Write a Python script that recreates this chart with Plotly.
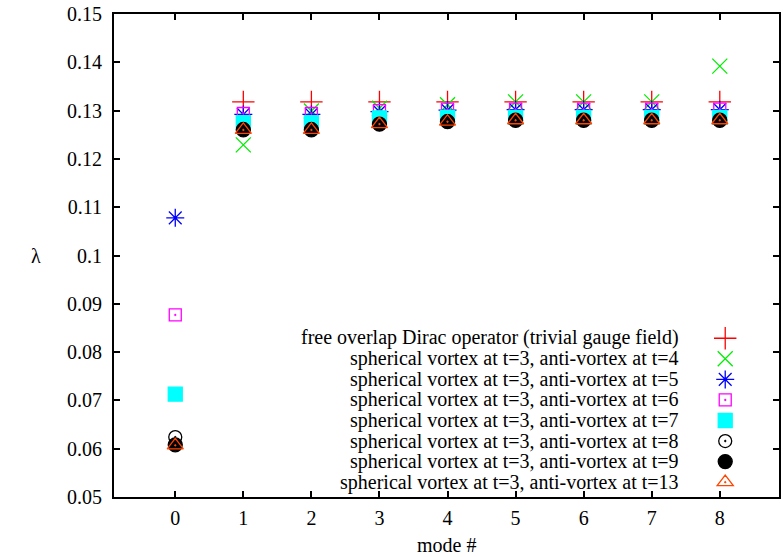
import plotly.graph_objects as go

modes = [0, 1, 2, 3, 4, 5, 6, 7, 8]
modes_no0 = [1, 2, 3, 4, 5, 6, 7, 8]

names = [
    "free overlap Dirac operator (trivial gauge field)",
    "spherical vortex at t=3, anti-vortex at t=4",
    "spherical vortex at t=3, anti-vortex at t=5",
    "spherical vortex at t=3, anti-vortex at t=6",
    "spherical vortex at t=3, anti-vortex at t=7",
    "spherical vortex at t=3, anti-vortex at t=8",
    "spherical vortex at t=3, anti-vortex at t=9",
    "spherical vortex at t=3, anti-vortex at t=13",
]

free_vals = [0.1318, 0.1318, 0.1318, 0.1318, 0.1318, 0.1318, 0.1318, 0.1318]
t4_vals = [0.1229, 0.1299, 0.1305, 0.1312, 0.1318, 0.1318, 0.1318, 0.1392]
t5_vals = [0.1078, 0.1292, 0.1292, 0.1298, 0.1301, 0.1302, 0.1302, 0.1302, 0.1302]
t6_vals = [0.0877, 0.1294, 0.1294, 0.1300, 0.1303, 0.1303, 0.1303, 0.1303, 0.1303]
t7_vals = [0.0713, 0.1275, 0.1275, 0.1285, 0.1286, 0.1286, 0.1286, 0.1286, 0.1286]
t8_vals = [0.0624, 0.1262, 0.1262, 0.1272, 0.1278, 0.1280, 0.1280, 0.1280, 0.1280]
t9_vals = [0.0608, 0.1260, 0.1260, 0.1272, 0.1277, 0.1280, 0.1280, 0.1280, 0.1280]
t13_vals = [0.0607, 0.1260, 0.1260, 0.1272, 0.1277, 0.1280, 0.1280, 0.1280, 0.1280]

x_sets = [modes_no0, modes_no0, modes, modes, modes, modes, modes, modes]
y_sets = [free_vals, t4_vals, t5_vals, t6_vals, t7_vals, t8_vals, t9_vals, t13_vals]
colors = ["#ff0000", "#00ee00", "#0000ff", "#ff00ff", "#00ffff", "#000000", "#000000", "#ff4500"]
symbols = ["cross-thin-open", "x-thin-open", "asterisk-open", "square-open-dot",
           "square", "circle-open-dot", "circle", "triangle-up-open-dot"]
sizes = [16, 15, 15, 12, 14, 13, 14, 14]

y_ticks = [0.05, 0.06, 0.07, 0.08, 0.09, 0.1, 0.11, 0.12, 0.13, 0.14, 0.15]
y_ticktext = ["0.05", "0.06", "0.07", "0.08", "0.09", "0.1", "0.11", "0.12", "0.13", "0.14", "0.15"]
x_ticks = [0, 1, 2, 3, 4, 5, 6, 7, 8]

FONT = "Liberation Serif"
FS = 20

W, H = 783, 557
ML, MR, MT, MB = 114, 2, 14, 60
PW, PH = W - ML - MR, H - MT - MB

def px_x(px):
    return (px - ML) / PW

def px_y(py):
    return (H - MB - py) / PH

fig = go.Figure()
for name, xs, ys, c, s, sz in zip(names, x_sets, y_sets, colors, symbols, sizes):
    fig.add_trace(go.Scatter(
        x=xs, y=ys, mode="markers", name="",
        marker=dict(symbol=s, size=sz, color=c, line=dict(color=c, width=1.3)),
    ))

axis_common = dict(
    showline=True, linecolor="black", linewidth=2, mirror="ticks",
    ticks="inside", ticklen=6, tickwidth=1.5, tickcolor="black",
    showgrid=False, zeroline=False,
    tickfont=dict(family=FONT, size=FS, color="black"),
)

# legend text, right-aligned like gnuplot's key
row0, row_gap = 338, 20.6
annotations = []
for i, name in enumerate(names):
    annotations.append(dict(
        text=name, xref="paper", yref="paper", x=px_x(683), y=px_y(row0 + i * row_gap),
        xanchor="right", yanchor="middle", showarrow=False,
        font=dict(family=FONT, size=FS, color="black"),
    ))
annotations.append(dict(text="λ", xref="paper", yref="paper", x=px_x(36), y=px_y(256),
                        xanchor="center", yanchor="middle", showarrow=False,
                        font=dict(family=FONT, size=FS)))
annotations.append(dict(text="mode #", xref="paper", yref="paper", x=0.5, y=px_y(545),
                        xanchor="center", yanchor="middle", showarrow=False,
                        font=dict(family=FONT, size=FS)))

fig.update_layout(
    width=W, height=H,
    margin=dict(l=ML, r=MR, t=MT, b=MB),
    paper_bgcolor="white", plot_bgcolor="white",
    font=dict(family=FONT, size=FS, color="black"),
    xaxis=dict(range=[-0.9, 8.87], tickvals=x_ticks, ticklabelstandoff=2, **axis_common),
    yaxis=dict(range=[0.05, 0.15], tickvals=y_ticks, ticktext=y_ticktext, ticklabelstandoff=6, **axis_common),
    showlegend=True,
    legend=dict(
        x=px_x(707), xanchor="left", y=px_y(323), yanchor="top",
        bgcolor="rgba(0,0,0,0)", font=dict(family=FONT, size=13.5, color="black"),
        tracegroupgap=0, itemwidth=30,
    ),
    annotations=annotations,
)

fig.write_html("out.html")
